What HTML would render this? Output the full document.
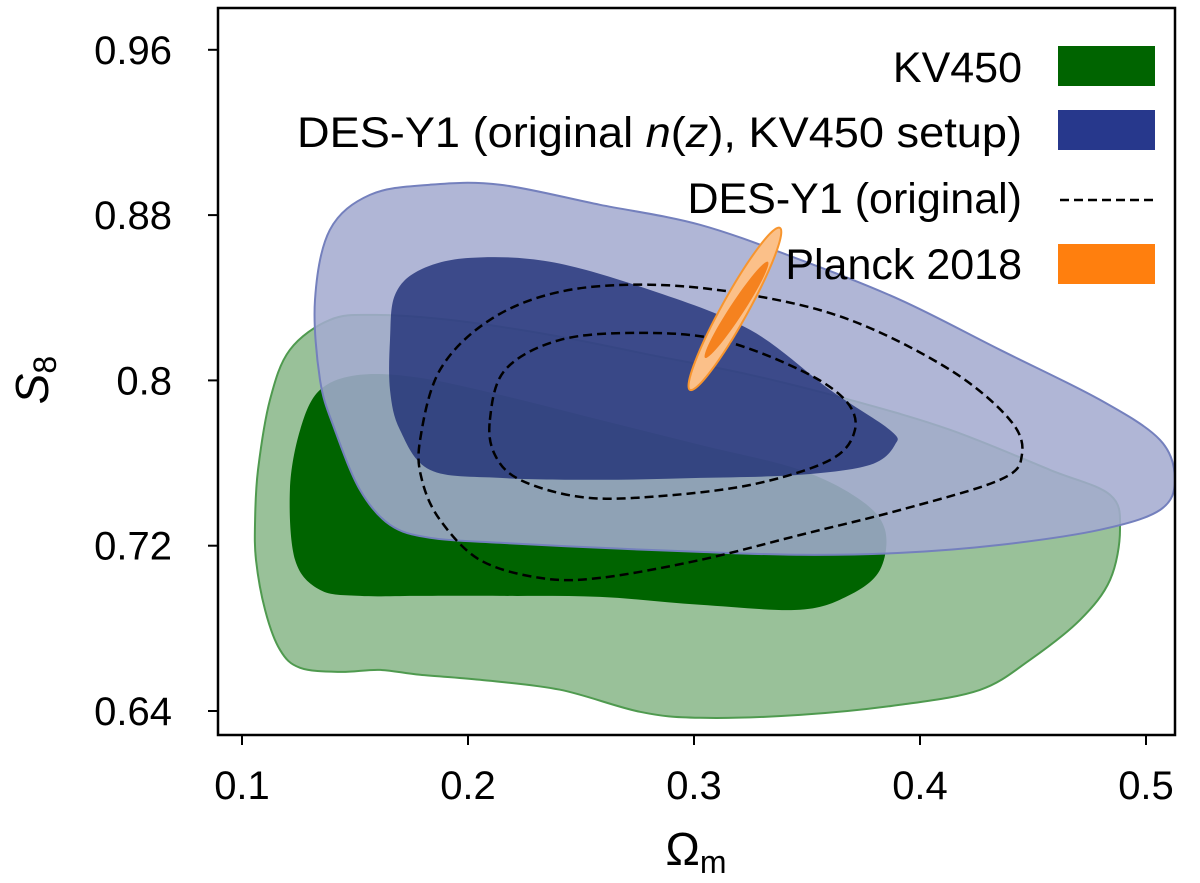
<!DOCTYPE html>
<html><head><meta charset="utf-8"><style>
html,body{margin:0;padding:0;background:#fff;}
svg{display:block;font-family:"Liberation Sans","DejaVu Sans",sans-serif;}
</style></head><body>
<svg id="chart" width="1200" height="883" viewBox="0 0 1200 883">
<g id="plot"></g>
<g id="axes"></g>
<g id="legend"></g>
</svg>
<script>
const xTicks=[0.1,0.2,0.3,0.4,0.5];
const xTickLabels=["0.1","0.2","0.3","0.4","0.5"];
const yTicks=[0.64,0.72,0.8,0.88,0.96];
const yTickLabels=["0.64","0.72","0.8","0.88","0.96"];
const kvOuterOm=[0.1058,0.1071,0.1124,0.1212,0.1389,0.1588,0.192,0.2363,0.2805,0.3248,0.369,0.4133,0.4575,0.4841,0.4885,0.4841,0.4708,0.4487,0.4265,0.3912,0.3469,0.3027,0.2761,0.2407,0.2053,0.1788,0.1611,0.1434,0.1257,0.1168,0.1102,0.1062];
const kvOuterS8=[0.7325,0.7567,0.7906,0.8148,0.8293,0.8317,0.8293,0.822,0.8124,0.8027,0.7906,0.7761,0.7567,0.7446,0.7277,0.7035,0.6841,0.6648,0.6502,0.643,0.6381,0.6367,0.6396,0.6503,0.6551,0.6575,0.6599,0.6589,0.6609,0.6696,0.6889,0.7131];
const kvInnerOm=[0.1212,0.1257,0.1345,0.1522,0.1788,0.2142,0.2584,0.3027,0.3469,0.3735,0.3845,0.3823,0.369,0.3469,0.3027,0.2584,0.2142,0.1788,0.1522,0.1345,0.1235];
const kvInnerS8=[0.747,0.776,0.7954,0.8027,0.8012,0.793,0.7809,0.7688,0.7567,0.7422,0.7277,0.7083,0.6962,0.689,0.6914,0.6952,0.6957,0.6957,0.6957,0.6986,0.7131];
const desOuterOm=[0.1345,0.1323,0.1389,0.1566,0.1832,0.2142,0.2584,0.3027,0.3469,0.3912,0.4354,0.4796,0.5062,0.5128,0.5062,0.4796,0.4354,0.3912,0.3469,0.3027,0.2584,0.2142,0.1832,0.1655,0.1522,0.1411];
const desOuterS8=[0.8003,0.839,0.8729,0.8898,0.8947,0.8947,0.885,0.8753,0.8584,0.8390,0.8148,0.7906,0.7712,0.7519,0.7373,0.7277,0.7204,0.7165,0.7156,0.717,0.719,0.7214,0.7238,0.7301,0.747,0.776];
const desInnerOm=[0.1655,0.1677,0.1788,0.2009,0.2363,0.2805,0.3248,0.3602,0.3867,0.3889,0.3779,0.3469,0.3027,0.2584,0.2142,0.1832,0.1699,0.1655];
const desInnerS8=[0.8196,0.8414,0.8535,0.8593,0.8574,0.8438,0.8245,0.7954,0.776,0.7688,0.7591,0.7543,0.7528,0.7519,0.7528,0.7567,0.776,0.7954];
const dOuterOm=[0.1788,0.1876,0.2097,0.2407,0.2805,0.3248,0.369,0.4133,0.4398,0.4451,0.4354,0.3912,0.3469,0.3027,0.2584,0.2319,0.2053,0.1876,0.1796];
const dOuterS8=[0.7712,0.8051,0.8293,0.8429,0.8463,0.8414,0.8293,0.8051,0.7809,0.764,0.7519,0.7373,0.7252,0.7131,0.7044,0.7044,0.7131,0.7325,0.7519];
const dInnerOm=[0.2097,0.2164,0.2407,0.2761,0.3115,0.3469,0.3668,0.3712,0.3602,0.3248,0.2805,0.2496,0.223,0.2119];
const dInnerS8=[0.7809,0.8051,0.8196,0.823,0.8196,0.8051,0.7906,0.776,0.7615,0.7494,0.7436,0.7436,0.7519,0.764];
const planckOuterTipsOm=[0.2982,0.338];
const planckOuterTipsS8=[0.7954,0.8738];
const planckInnerTipsOm=[0.3049,0.3327];
const planckInnerTipsS8=[0.8109,0.8574];

const X0=218,X1=1175,Y0=8,Y1=735;
function sx(v){return 242+(v-0.1)*2260;}
function sy(v){return 711-(v-0.64)*(165.3/0.08);}
const NS="http://www.w3.org/2000/svg";
function mk(tag,attrs,parent){const e=document.createElementNS(NS,tag);for(const k in attrs)e.setAttribute(k,attrs[k]);parent.appendChild(e);return e;}
function smoothPath(xs,ys){
  const p=xs.map((x,i)=>[sx(x),sy(ys[i])]);const n=p.length;
  let d=`M${p[0][0].toFixed(1)},${p[0][1].toFixed(1)}`;
  for(let i=0;i<n;i++){
    const p0=p[(i-1+n)%n],p1=p[i],p2=p[(i+1)%n],p3=p[(i+2)%n];
    const c1=[p1[0]+(p2[0]-p0[0])/6,p1[1]+(p2[1]-p0[1])/6];
    const c2=[p2[0]-(p3[0]-p1[0])/6,p2[1]-(p3[1]-p1[1])/6];
    d+=`C${c1[0].toFixed(1)},${c1[1].toFixed(1)} ${c2[0].toFixed(1)},${c2[1].toFixed(1)} ${p2[0].toFixed(1)},${p2[1].toFixed(1)}`;
  }
  return d+"Z";
}
const plot=document.getElementById('plot');
const defs=mk('defs',{},plot);
const cp=mk('clipPath',{id:'clip'},defs);
mk('rect',{x:X0,y:Y0,width:X1-X0,height:Y1-Y0},cp);
const g=mk('g',{'clip-path':'url(#clip)'},plot);
let e;
e=mk('path',{d:smoothPath(kvOuterOm,kvOuterS8),fill:'rgba(0,100,0,0.4)',stroke:'#4f9a4f','stroke-width':2},g);


e=mk('path',{d:smoothPath(kvInnerOm,kvInnerS8),fill:'#006400',stroke:'none'},g);


e=mk('path',{d:smoothPath(desOuterOm,desOuterS8),fill:'rgba(164,171,208,0.87)',stroke:'#7480bd','stroke-width':2},g);


e=mk('path',{d:smoothPath(desInnerOm,desInnerS8),fill:'rgba(22,38,112,0.75)',stroke:'none'},g);


e=mk('path',{d:smoothPath(dOuterOm,dOuterS8),fill:'none',stroke:'#000','stroke-width':2.5,'stroke-dasharray':'9,5'},g);


e=mk('path',{d:smoothPath(dInnerOm,dInnerS8),fill:'none',stroke:'#000','stroke-width':2.5,'stroke-dasharray':'9,5'},g);


function ell(om,s8,w,fill,stroke,name){
  const x1=sx(om[0]),y1=sy(s8[0]),x2=sx(om[1]),y2=sy(s8[1]);
  const cx=(x1+x2)/2,cy=(y1+y2)/2,len=Math.hypot(x2-x1,y2-y1)/2;
  const ang=Math.atan2(y2-y1,x2-x1)*180/Math.PI;
  const el=mk('ellipse',{cx:cx,cy:cy,rx:len,ry:w,fill:fill,stroke:stroke,'stroke-width':2,transform:`rotate(${ang} ${cx} ${cy})`},g);
  
  
}
ell(planckOuterTipsOm,planckOuterTipsS8,13,'#fbc089','#f7952e','planck-2018-outer');
ell(planckInnerTipsOm,planckInnerTipsS8,7,'#f5821f','none','planck-2018-inner');

const ax=document.getElementById('axes');
mk('rect',{x:X0,y:Y0,width:X1-X0,height:Y1-Y0,fill:'none',stroke:'#000','stroke-width':2.5},ax);
xTicks.forEach((v,i)=>{
  const t=mk('line',{x1:sx(v),x2:sx(v),y1:Y1,y2:Y1+10,stroke:'#000','stroke-width':2},ax);
  
  
  const l=mk('text',{x:sx(v),y:Y1+64,'font-size':40,'text-anchor':'middle'},ax);l.textContent=xTickLabels[i];
  
  
});
yTicks.forEach((v,i)=>{
  const t=mk('line',{x1:X0-10,x2:X0,y1:sy(v),y2:sy(v),stroke:'#000','stroke-width':2},ax);
  
  
  const l=mk('text',{x:X0-46,y:sy(v)+14,'font-size':40,'text-anchor':'end'},ax);l.textContent=yTickLabels[i];
  
  
});
const chart=document.getElementById('chart');
chart.insertAdjacentHTML('beforeend',
 '<text x="696" y="865" font-size="46" text-anchor="middle">Ω<tspan font-size="32" dy="8">m</tspan></text>'+
 '<text transform="translate(48 380) rotate(-90)" font-size="46" text-anchor="middle"><tspan font-style="italic">S</tspan><tspan font-size="32" dy="8">8</tspan></text>');
const lg=document.getElementById('legend');
lg.innerHTML=
 '<text x="1022" y="82" font-size="43" text-anchor="end">KV450</text>'+
 '<rect x="1058" y="46" width="97" height="40" fill="#006400"/>'+
 '<text x="1022" y="147" font-size="43" text-anchor="end" textLength="725" lengthAdjust="spacingAndGlyphs">DES-Y1 (original <tspan font-style="italic">n</tspan>(<tspan font-style="italic">z</tspan>), KV450 setup)</text>'+
 '<rect x="1058" y="110" width="97" height="40" fill="#27388c"/>'+
 '<text x="1022" y="213" font-size="43" text-anchor="end">DES-Y1 (original)</text>'+
 '<line x1="1060" x2="1155" y1="200" y2="200" stroke="#000" stroke-width="2.5" stroke-dasharray="9,5"/>'+
 '<text x="1022" y="279" font-size="43" text-anchor="end">Planck 2018</text>'+
 '<rect x="1058" y="244" width="97" height="40" fill="#ff7f0e"/>';
</script>
</body></html>
